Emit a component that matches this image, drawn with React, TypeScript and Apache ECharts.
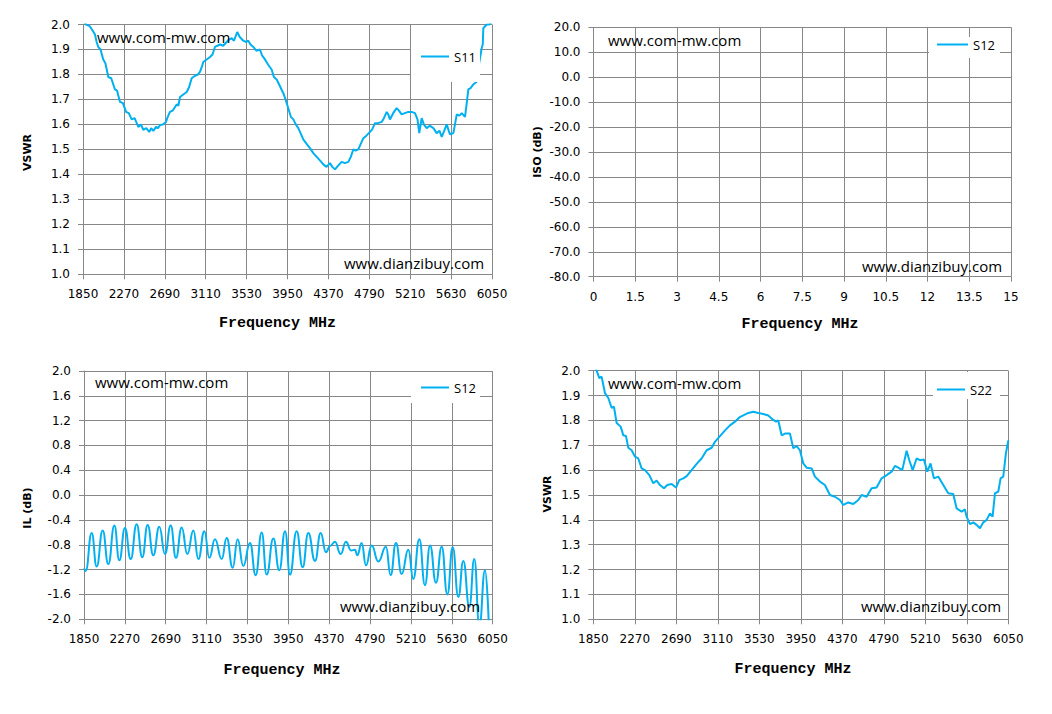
import React, { useEffect, useRef } from "react";
import * as echarts from "echarts";

// ---------- data ----------
const F_MIN = 1850;
const F_MAX = 6050;
const F_STEP = 420;

const S11_FREQ = [1850, 1880, 1915, 1950, 1973, 1990, 2007, 2030, 2058, 2080, 2110, 2140, 2178, 2200, 2230, 2260, 2292, 2320, 2350, 2380, 2418, 2445, 2469, 2500, 2530, 2550, 2572, 2600, 2620, 2641, 2670, 2702, 2720, 2743, 2770, 2812, 2830, 2846, 2880, 2915, 2940, 2966, 3000, 3030, 3051, 3070, 3085, 3120, 3154, 3180, 3205, 3230, 3257, 3290, 3325, 3350, 3377, 3400, 3434, 3460, 3496, 3520, 3547, 3570, 3599, 3630, 3667, 3690, 3719, 3750, 3787, 3810, 3839, 3870, 3907, 3930, 3958, 3985, 4010, 4035, 4061, 4090, 4112, 4150, 4181, 4215, 4250, 4285, 4318, 4350, 4386, 4410, 4438, 4470, 4506, 4540, 4575, 4600, 4626, 4650, 4677, 4700, 4729, 4760, 4797, 4820, 4848, 4880, 4917, 4940, 4969, 4985, 5002, 5035, 5071, 5095, 5122, 5155, 5190, 5225, 5259, 5285, 5303, 5328, 5350, 5379, 5410, 5448, 5482, 5510, 5534, 5560, 5585, 5605, 5619, 5653, 5670, 5688, 5715, 5739, 5773, 5795, 5807, 5830, 5858, 5890, 5920, 5944, 5955, 5961, 5995, 6020, 6050];
const S11_VSWR = [2.02, 2.0, 1.995, 1.975, 1.96, 1.93, 1.91, 1.9, 1.86, 1.845, 1.79, 1.785, 1.74, 1.735, 1.69, 1.685, 1.65, 1.645, 1.62, 1.625, 1.59, 1.6, 1.578, 1.585, 1.57, 1.585, 1.574, 1.59, 1.585, 1.598, 1.6, 1.61, 1.63, 1.65, 1.655, 1.68, 1.675, 1.71, 1.72, 1.73, 1.75, 1.785, 1.795, 1.8, 1.81, 1.83, 1.85, 1.86, 1.87, 1.88, 1.91, 1.915, 1.92, 1.915, 1.93, 1.94, 1.945, 1.935, 1.97, 1.95, 1.935, 1.93, 1.935, 1.92, 1.91, 1.895, 1.9, 1.875, 1.86, 1.84, 1.82, 1.79, 1.78, 1.755, 1.725, 1.7, 1.665, 1.63, 1.62, 1.6, 1.585, 1.56, 1.54, 1.52, 1.505, 1.485, 1.47, 1.455, 1.44, 1.43, 1.445, 1.43, 1.42, 1.435, 1.45, 1.445, 1.45, 1.47, 1.5, 1.495, 1.5, 1.52, 1.545, 1.555, 1.57, 1.58, 1.605, 1.605, 1.61, 1.625, 1.65, 1.64, 1.62, 1.645, 1.665, 1.655, 1.64, 1.645, 1.65, 1.65, 1.645, 1.62, 1.565, 1.625, 1.6, 1.585, 1.595, 1.585, 1.565, 1.575, 1.55, 1.575, 1.6, 1.575, 1.56, 1.565, 1.6, 1.64, 1.635, 1.645, 1.63, 1.7, 1.74, 1.745, 1.76, 1.77, 1.85, 1.905, 1.92, 1.985, 2.0, 2.0, 2.01];

const ISO_TICKS_X = [0, 15, 1.5];
const ISO_TICKS_Y = [-80, 20, 10];

const IL_FREQ = [1850, 1867, 1929, 1980, 2042, 2100, 2162, 2213, 2271, 2330, 2391, 2449, 2504, 2562, 2624, 2682, 2741, 2795, 2854, 2912, 2974, 3025, 3087, 3138, 3196, 3265, 3316, 3378, 3429, 3487, 3556, 3614, 3676, 3727, 3796, 3857, 3916, 3967, 4035, 4097, 4155, 4224, 4282, 4337, 4378, 4429, 4488, 4542, 4594, 4635, 4659, 4703, 4748, 4806, 4875, 4953, 5001, 5056, 5114, 5183, 5234, 5296, 5354, 5406, 5467, 5526, 5584, 5639, 5697, 5748, 5810, 5861, 5913, 5971, 6010];
const IL_DB = [-1.18, -1.22, -0.61, -1.15, -0.57, -1.11, -0.49, -1.05, -0.53, -1.03, -0.47, -1.0, -0.48, -0.97, -0.51, -0.95, -0.49, -1.01, -0.52, -0.95, -0.57, -1.03, -0.58, -1.01, -0.71, -1.03, -0.69, -1.17, -0.71, -1.14, -0.77, -1.29, -0.6, -1.28, -0.7, -1.21, -0.58, -1.28, -0.58, -1.16, -0.61, -1.06, -0.61, -0.92, -0.82, -0.75, -0.95, -0.75, -0.89, -0.88, -0.97, -0.77, -1.13, -0.81, -1.07, -0.83, -1.29, -0.77, -1.27, -0.88, -1.35, -0.71, -1.45, -0.81, -1.41, -0.83, -1.6, -0.84, -1.64, -1.06, -1.8, -1.03, -2.1, -1.21, -2.1];

const S22_FREQ = [1850, 1884, 1911, 1934, 1968, 2002, 2036, 2059, 2086, 2127, 2154, 2181, 2204, 2238, 2272, 2305, 2339, 2373, 2417, 2457, 2491, 2525, 2565, 2599, 2643, 2687, 2720, 2761, 2795, 2845, 2896, 2946, 2997, 3048, 3081, 3132, 3183, 3233, 3284, 3328, 3368, 3419, 3469, 3520, 3571, 3621, 3665, 3699, 3722, 3756, 3790, 3840, 3874, 3908, 3941, 3975, 4009, 4060, 4093, 4144, 4194, 4245, 4296, 4346, 4380, 4431, 4481, 4532, 4566, 4616, 4667, 4717, 4768, 4819, 4869, 4903, 4937, 4977, 5021, 5048, 5082, 5122, 5156, 5196, 5230, 5263, 5297, 5341, 5392, 5442, 5493, 5527, 5577, 5611, 5628, 5662, 5696, 5729, 5763, 5797, 5831, 5864, 5891, 5915, 5949, 5972, 5999, 6026, 6050];
const S22_VSWR = [2.03, 2.0, 1.97, 1.976, 1.91, 1.89, 1.85, 1.855, 1.79, 1.775, 1.74, 1.737, 1.69, 1.68, 1.654, 1.647, 1.607, 1.6, 1.58, 1.547, 1.558, 1.54, 1.527, 1.54, 1.544, 1.53, 1.56, 1.567, 1.576, 1.6, 1.625, 1.647, 1.68, 1.69, 1.714, 1.737, 1.76, 1.78, 1.795, 1.812, 1.82, 1.83, 1.835, 1.83, 1.826, 1.82, 1.804, 1.795, 1.8, 1.74, 1.747, 1.747, 1.688, 1.697, 1.68, 1.627, 1.61, 1.607, 1.574, 1.554, 1.54, 1.5, 1.493, 1.48, 1.46, 1.47, 1.464, 1.48, 1.5, 1.493, 1.527, 1.53, 1.567, 1.58, 1.594, 1.617, 1.61, 1.6, 1.678, 1.64, 1.6, 1.647, 1.64, 1.643, 1.594, 1.627, 1.567, 1.574, 1.54, 1.507, 1.504, 1.446, 1.433, 1.442, 1.413, 1.383, 1.39, 1.38, 1.366, 1.39, 1.4, 1.426, 1.413, 1.507, 1.514, 1.567, 1.574, 1.668, 1.72];

const VSWR_TICKS = [1.0, 2.0, 0.1];
const IL_TICKS = [-2.0, 2.0, 0.4];

// ---------- styles ----------
const LINE_COLOR = "#00B0F0";
const GRID_COLOR = "#878787";
const LABEL_FONT = "DejaVu Sans";

function pairs(xs: number[], ys: number[], offset: number) {
  return xs.map((x, i) => [x - offset, ys[i]]);
}

function baseAxis(gridIndex: number) {
  return {
    type: "value",
    gridIndex,
    axisLine: { show: true, onZero: false, lineStyle: { color: GRID_COLOR, width: 1 } },
    axisTick: { show: true, length: 5, lineStyle: { color: GRID_COLOR, width: 1 } },
    splitLine: { show: true, lineStyle: { color: GRID_COLOR, width: 1 } },
    axisLabel: { color: "#000", fontFamily: LABEL_FONT, fontSize: 12, margin: 13 },
  };
}

function freqAxis(gridIndex: number) {
  const a: any = baseAxis(gridIndex);
  a.min = 0;
  a.max = F_MAX - F_MIN;
  a.interval = F_STEP;
  a.axisLabel = { ...a.axisLabel, margin: 14, formatter: (v: number) => String(v + F_MIN) };
  return a;
}

function yAxisOf(gridIndex: number, ticks: number[]) {
  const a: any = baseAxis(gridIndex);
  a.min = ticks[0];
  a.max = ticks[1];
  a.interval = ticks[2];
  a.axisLabel = { ...a.axisLabel, formatter: (v: number) => v.toFixed(1) };
  return a;
}

function legendOf(name: string, left: number, top: number, padding: number[], itemWidth: number) {
  return {
    data: [name],
    left,
    top,
    padding,
    itemWidth,
    itemHeight: 2,
    icon: "rect",
    backgroundColor: "#fff",
    selectedMode: false,
    textStyle: { color: "#000", fontFamily: "Open Sans", fontSize: 13 },
  };
}

function wm(text: string, x: number, y: number) {
  return {
    type: "text",
    x,
    y,
    z: 100,
    style: { text, fill: "#000", font: "15px 'Open Sans'", textAlign: "left", textVerticalAlign: "middle" },
  };
}

function xTitle(x: number, y: number) {
  return {
    type: "text",
    x,
    y,
    z: 100,
    style: { text: "Frequency MHz", fill: "#000", font: "bold 15px 'Liberation Mono'", textAlign: "center", textVerticalAlign: "middle" },
  };
}

function yTitle(text: string, x: number, y: number) {
  return {
    type: "text",
    x,
    y,
    rotation: Math.PI / 2,
    z: 100,
    style: { text, fill: "#000", font: "bold 11px 'DejaVu Sans'", textAlign: "center", textVerticalAlign: "middle" },
  };
}

function lineSeries(name: string, xi: number, data: number[][], smooth: boolean) {
  return {
    type: "line",
    name,
    xAxisIndex: xi,
    yAxisIndex: xi,
    data,
    showSymbol: false,
    symbol: "none",
    smooth,
    clip: true,
    lineStyle: { color: LINE_COLOR, width: 2 },
    itemStyle: { color: LINE_COLOR },
  };
}

export default function App() {
  const ref = useRef<HTMLDivElement>(null);

  useEffect(() => {
    if (!ref.current) return;
    const chart = echarts.init(ref.current, null, { renderer: "svg" });

    const isoX: any = baseAxis(1);
    isoX.min = ISO_TICKS_X[0];
    isoX.max = ISO_TICKS_X[1];
    isoX.interval = ISO_TICKS_X[2];
    isoX.axisLabel = { ...isoX.axisLabel, margin: 14 };

    const option: any = {
      animation: false,
      backgroundColor: "#fff",
      grid: [
        { left: 83, top: 24.5, width: 409, height: 249.8 },
        { left: 593.5, top: 27.3, width: 417.5, height: 249.4 },
        { left: 84, top: 371, width: 408.7, height: 248.3 },
        { left: 593.3, top: 370.7, width: 415, height: 248.6 },
      ],
      xAxis: [freqAxis(0), isoX, freqAxis(2), freqAxis(3)],
      yAxis: [
        yAxisOf(0, VSWR_TICKS),
        yAxisOf(1, ISO_TICKS_Y),
        yAxisOf(2, IL_TICKS),
        yAxisOf(3, VSWR_TICKS),
      ],
      legend: [
        legendOf("S11", 411, 25, [25, 4, 19, 10], 28),
        legendOf("S12", 929, 37, [1, 5, 7, 8], 31),
        legendOf("S12", 411, 372, [9, 4, 9, 10], 28),
        legendOf("S22", 933, 372, [11, 8, 3, 4], 28),
      ],
      series: [
        lineSeries("S11", 0, pairs(S11_FREQ, S11_VSWR, F_MIN), false),
        lineSeries("S12", 1, [], false),
        { ...lineSeries("S12", 2, pairs(IL_FREQ, IL_DB, F_MIN), true), smoothMonotone: "x" },
        lineSeries("S22", 3, pairs(S22_FREQ, S22_VSWR, F_MIN), false),
      ],
      graphic: [
        wm("www.com-mw.com", 97, 37),
        wm("www.dianzibuy.com", 344, 263),
        wm("www.com-mw.com", 608, 40),
        wm("www.dianzibuy.com", 862, 266),
        wm("www.com-mw.com", 95, 382),
        wm("www.dianzibuy.com", 340, 606),
        wm("www.com-mw.com", 608, 383),
        wm("www.dianzibuy.com", 861, 606),
        xTitle(277.5, 323),
        xTitle(800, 324),
        xTitle(282, 670),
        xTitle(793, 669),
        yTitle("VSWR", 27, 152.5),
        yTitle("ISO (dB)", 537, 152),
        yTitle("IL (dB)", 27, 508),
        yTitle("VSWR", 547, 494),
      ],
    };
    chart.setOption(option);
    return () => chart.dispose();
  }, []);

  return (
    <div
      ref={ref}
      style={{ position: "absolute", left: 0, top: 0, width: 1052, height: 714, background: "#fff" }}
    />
  );
}
